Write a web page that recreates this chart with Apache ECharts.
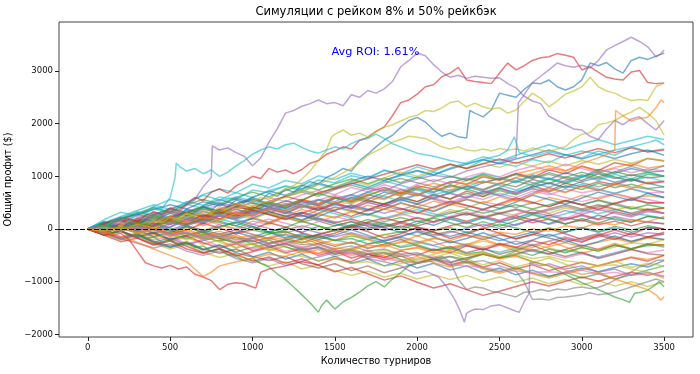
<!DOCTYPE html>
<html><head><meta charset="utf-8">
<script src="https://cdn.jsdelivr.net/npm/echarts@6/dist/echarts.min.js"></script>
<style>html,body{margin:0;padding:0;background:#fff}#c{width:700px;height:374px}</style>
</head><body><div id="c"></div>
<script>
// ---------- axes / ticks ----------
const TOURNAMENTS = [0,100,200,300,400,500,600,700,800,900,1000,1100,1200,1300,1400,1500,1600,1700,1800,1900,2000,2100,2200,2300,2400,2500,2600,2700,2800,2900,3000,3100,3200,3300,3400,3500];
const X_TICKS = [0,500,1000,1500,2000,2500,3000,3500];
const Y_TICKS = [-2000,-1000,0,1000,2000,3000];
const TITLE = 'Симуляции с рейком 8% и 50% рейкбэк';
const X_LABEL = 'Количество турниров';
const Y_LABEL = 'Общий профит ($)';
const ROI_TEXT = 'Avg ROI: 1.61%';
const ROI_POS = [1480, 3360];

// ---------- background simulations (profit every 100 tournaments) ----------
const bg01 = [0,150,90,260,380,310, 520,450,610,560,740,690, 820,760,930,880,1010,950, 1120,1040,1180,1090,1230,1150, 1310,1250,1190,1320,1260,1410, 1350,1480,1400,1560,1470,1520];
const bg02 = [0,-90,60,-40,130,250, 180,330,260,420,370,290, 450,560,480,610,540,700, 790,680,820,760,900,850, 990,930,1060,980,1120,1050, 1190,1110,1260,1200,1340,1290];
const bg03 = [0,110,-30,70,-80,40, 180,120,270,200,330,460, 390,520,440,580,650,560, 700,630,760,690,820,750, 880,960,880,1010,940,1070, 990,1130,1060,1150,1080,1100];
const bg04 = [0,-70,80,10,160,90, 240,170,310,420,350,480, 400,540,460,590,520,650, 580,700,630,770,690,820, 750,870,800,940,860,990, 920,1050,960,1030,970,1000];
const bg05 = [0,180,320,250,430,560, 480,650,760,690,850,780, 920,860,1010,940,1060,980, 1110,1030,970,1080,1000,940, 1050,980,910,1030,960,880, 990,1060,980,910,990,900];
const bg06 = [0,-60,90,30,170,100, 260,190,330,270,410,350, 480,400,550,470,610,530, 480,590,520,640,570,680, 610,730,650,770,700,820, 750,870,790,850,770,800];
const bg07 = [0,90,20,140,70,200, 130,260,190,310,240,370, 290,420,350,460,390,500, 430,550,470,590,510,630, 560,680,600,720,650,760, 690,740,670,770,690,700];
const bg08 = [0,-110,-40,-160,-90,-210, -120,-30,80,10,150,90, 220,150,280,210,320,260, 380,310,420,350,470,400, 520,450,560,490,600,530, 640,570,660,590,630,600];
const bg09 = [0,70,180,110,250,330, 260,380,300,420,490,410, 540,460,390,480,410,340, 430,360,470,400,510,440, 380,470,410,500,430,520, 460,550,480,560,490,500];
const bg10 = [0,-80,40,-50,60,160, 90,210,140,260,190,310, 230,170,290,220,340,270, 190,260,330,250,370,300, 230,320,260,370,300,400, 330,440,360,430,370,400];
const bg11 = [0,110,210,140,280,360, 290,420,500,430,560,480, 400,520,440,350,460,380, 300,390,310,240,330,260, 370,290,210,320,250,350, 280,370,300,230,330,300];
const bg12 = [0,-90,-180,-110,-250,-170, -300,-220,-140,-60,-150,-50, 30,-60,50,-20,80,10, 110,30,150,70,190,110, 220,140,70,180,100,220, 150,260,180,130,240,200];
const bg13 = [0,80,-30,140,60,210, 300,230,370,280,420,330, 240,310,200,120,190,100, 30,110,40,-30,60,130, 50,140,210,120,190,100, 170,80,150,60,140,100];
const bg14 = [0,-80,-190,-110,-250,-340, -260,-390,-300,-430,-350,-270, -190,-260,-150,-220,-130,-200, -110,-50,-130,-40,30,-60, 10,90,20,-60,20,-50, 30,-40,50,-20,60,0];
const bg15 = [0,100,190,280,200,330, 250,390,300,440,360,280, 190,260,150,60,140,50, -30,60,-20,-110,-40,-120, -200,-110,-180,-100,-170,-250, -170,-90,-160,-230,-150,-100];
const bg16 = [0,-110,-30,-160,-80,-230, -150,-290,-210,-360,-280,-410, -330,-460,-390,-520,-450,-560, -490,-410,-340,-420,-350,-280, -350,-270,-340,-410,-330,-260, -330,-250,-180,-260,-170,-200];
const bg17 = [0,140,70,210,300,220, 360,270,190,110,30,-50, -130,-200,-120,-210,-270,-190, -260,-330,-250,-320,-390,-310, -380,-440,-360,-420,-480,-400, -460,-530,-450,-370,-320,-300];
const bg18 = [0,-70,-150,-80,-210,-140, -280,-200,-330,-250,-380,-300, -420,-350,-470,-390,-510,-430, -550,-470,-590,-510,-630,-550, -480,-560,-490,-410,-480,-550, -470,-540,-460,-390,-450,-400];
const bg19 = [0,70,-40,-150,-70,-200, -130,-260,-360,-280,-410,-330, -450,-380,-500,-420,-550,-470, -590,-510,-640,-560,-680,-600, -720,-640,-760,-680,-790,-710, -630,-700,-620,-540,-610,-500];
const bg20 = [0,-90,-200,-120,-260,-350, -270,-400,-310,-450,-530,-440, -570,-480,-610,-520,-650,-570, -700,-610,-740,-650,-780,-700, -830,-740,-870,-780,-900,-820, -740,-810,-730,-660,-720,-600];
const bg21 = [0,100,40,170,90,20, -90,-160,-230,-150,-290,-210, -340,-420,-340,-480,-400,-530, -450,-580,-650,-570,-700,-620, -740,-810,-730,-840,-900,-820, -930,-850,-950,-870,-780,-700];
const bg22 = [0,90,170,100,240,160, 300,230,370,290,430,510, 430,560,480,610,530,660, 730,650,780,870,790,920, 1000,920,1050,1120,1200,1110, 1190,1080,1170,1240,1160,1200];
const bg23 = [0,-70,50,150,260,180, 310,420,340,480,570,490, 620,730,650,780,870,790, 920,1010,1100,1020,1160,1260, 1370,1290,1400,1500,1600,1510, 1620,1700,1600,1680,1760,1700];
const bg24 = [0,100,210,130,270,390, 310,440,560,470,600,720, 640,760,870,790,910,1000, 920,1030,1110,1030,1140,1230, 1320,1240,1330,1410,1500,1410, 1330,1420,1340,1430,1500,1400];
const bg25 = [0,-70,60,160,80,210, 130,270,190,330,250,390, 300,440,360,500,410,550, 460,610,520,660,570,720, 620,770,670,820,720,870, 800,900,840,940,860,900];
const bg26 = [0,120,240,350,460,370, 510,640,550,690,600,730, 810,720,850,760,880,790, 910,830,740,650,730,800, 710,630,720,790,870,780, 850,760,680,760,680,600];
const bg27 = [0,-60,80,20,160,90, 230,160,300,220,370,290, 210,130,210,140,50,130, 50,130,210,130,220,290, 210,290,360,280,350,430, 350,420,490,400,350,300];
const bg28 = [0,100,210,310,220,360, 280,420,330,480,390,300, 220,140,60,-20,-100,-180, -100,-180,-250,-170,-240,-310, -230,-300,-370,-290,-360,-430, -350,-420,-340,-260,-290,-200];
const bg29 = [0,-100,-210,-140,-280,-380, -300,-440,-540,-460,-600,-700, -620,-760,-680,-790,-880,-800, -910,-840,-950,-870,-960,-880, -990,-910,-1010,-930,-1040,-960, -1060,-980,-1080,-1000,-1090,-1000];
const bg30 = [0,-80,-180,-270,-360,-280, -420,-500,-420,-560,-640,-560, -690,-610,-530,-450,-370,-290, -210,-130,-60,-140,-60,10, 90,10,90,170,90,170, 250,170,240,170,130,100];
const bg31 = [0,70,-40,-140,-60,-200, -120,-40,50,120,200,120, 240,320,240,360,440,360, 480,560,480,600,680,590, 700,780,690,800,880,790, 900,980,890,950,870,800];
const bg32 = [0,90,200,300,410,320, 460,560,470,600,700,610, 730,830,740,860,950,860, 970,880,990,900,1000,920, 1030,940,1040,960,1070,980, 1080,990,1090,1010,1080,1000];
const bg33 = [0,-120,-240,-170,-310,-230, -380,-460,-380,-510,-430,-350, -270,-190,-110,-30,50,130, 210,130,220,140,230,150, 240,160,250,170,260,180, 270,190,330,260,360,400];
const bg34 = [0,-70,-160,-90,-230,-320, -240,-380,-460,-380,-520,-600, -520,-660,-740,-660,-790,-700, -830,-740,-650,-560,-640,-550, -470,-550,-470,-390,-470,-390, -310,-390,-310,-380,-300,-300];
const bg35 = [0,70,160,250,170,310, 230,370,460,380,520,600, 520,650,730,650,790,710, 840,760,680,600,680,600, 680,760,680,760,680,600, 520,600,680,600,560,500];
const bg36 = [0,80,-10,110,220,150, 290,400,320,460,570,490, 630,740,660,800,910,830, 970,1080,1000,1120,1230,1150, 1250,1170,1270,1190,1290,1200, 1300,1230,1320,1250,1340,1300];
const bg37 = [0,110,220,330,250,390, 470,390,530,610,530,450, 370,450,370,290,210,290, 210,290,370,290,210,130, 210,130,210,290,210,290, 370,290,370,290,260,200];
const bg38 = [0,80,180,110,30,-80, 0,-120,-40,-150,-240,-160, -280,-360,-280,-400,-480,-400, -520,-600,-520,-640,-720,-640, -760,-840,-760,-850,-930,-850, -770,-690,-610,-530,-580,-500];
const bg39 = [0,-80,-170,-100,-20,80, 170,90,240,330,250,400, 490,410,550,640,560,700, 790,710,850,940,860,990, 1070,990,1110,1190,1110,1230, 1150,1070,1150,1070,1140,1100];
const bg40 = [0,130,60,200,280,200, 340,420,340,480,560,480, 620,700,620,750,830,750, 880,960,880,800,880,960, 880,960,1040,960,1040,960, 880,800,880,800,760,700];
const bg41 = [0,-110,-50,-170,-290,-210, -330,-450,-370,-490,-610,-530, -650,-570,-690,-810,-730,-850, -970,-890,-1010,-1120,-1040,-1150, -1260,-1180,-1090,-1000,-1080,-990, -910,-990,-900,-820,-880,-800];
const bg42 = [0,100,190,280,370,460, 380,520,440,580,500,420, 340,260,180,100,20,100, 20,-60,20,-60,-140,-60, -140,-220,-140,-60,-140,-60, 20,-60,20,-60,20,0];
const bg43 = [0,-100,-20,70,-10,-100, -180,-100,-180,-260,-180,-100, -20,60,-20,60,140,60, 140,220,140,220,300,380, 300,380,460,380,460,540, 460,540,460,380,460,400];
const bg44 = [0,90,10,160,80,230, 320,240,380,470,390,530, 620,540,690,770,860,950, 1040,1130,1220,1140,1230,1150, 1240,1330,1250,1340,1430,1350, 1440,1530,1450,1540,1460,1500];
const bg45 = [0,-70,40,-30,110,30, 180,100,250,170,90,10, -70,10,-70,-150,-70,-150, -230,-150,-230,-310,-230,-310, -390,-310,-230,-310,-230,-150, -230,-150,-70,-150,-70,-100];
const bg46 = [0,80,160,80,220,140, 60,-20,-100,-20,-100,-180, -100,-180,-100,-20,60,-20, 60,140,60,140,220,300, 220,300,380,300,380,460, 380,460,380,300,380,300];
const bg47 = [0,130,40,190,110,-20, 90,230,150,60,210,330, 250,170,300,420,350,270, 380,500,410,330,460,560, 480,390,510,640,560,470, 590,700,620,540,680,600];
const bg48 = [0,-60,70,-20,-150,-90, 40,-70,-180,-110,-240,-160, -50,-170,-280,-210,-90,-200, -320,-250,-130,-240,-370,-300, -190,-300,-420,-350,-230,-340, -460,-380,-270,-380,-290,-300];
const bg49 = [0,70,200,120,250,170, 310,420,330,250,380,510, 430,550,680,590,500,630, 760,670,790,710,840,760, 660,790,910,830,950,860, 980,1090,990,910,1040,1000];
const bg50 = [0,-120,-30,90,10,-100, -20,110,20,-90,-10,120, 40,-70,-160,-80,40,-50, -170,-90,30,-60,-180,-100, 20,-80,-190,-110,10,-90, -200,-120,-20,-110,30,0];
const bg51 = [0,90,-20,60,170,90, 210,130,260,370,280,400, 320,230,360,470,390,510, 430,560,660,570,480,600, 720,640,550,680,790,700, 820,730,850,960,870,900];
const bg52 = [0,70,-40,30,-90,-20, -140,-60,-180,-260,-170,-290, -210,-120,-240,-330,-250,-370, -290,-200,-320,-410,-330,-450, -370,-480,-400,-310,-430,-520, -440,-560,-480,-390,-470,-500];
const bg53 = [0,-50,60,150,70,-30, 60,170,80,-20,90,190, 110,30,140,240,160,70, 180,290,210,120,240,330, 250,160,280,370,290,200, 320,410,330,240,350,300];
const bg54 = [0,80,170,90,-10,110, 220,140,270,380,300,420, 530,450,360,480,590,510, 640,750,660,570,700,810, 730,860,970,880,790,920, 1030,950,1080,1190,1100,1200];
const bg55 = [0,-90,20,-60,-170,-100, -210,-130,-250,-350,-270,-390, -310,-220,-340,-440,-360,-480, -400,-510,-620,-540,-450,-570, -680,-600,-720,-640,-550,-670, -780,-700,-610,-730,-650,-700];
const bg56 = [0,60,-40,80,190,110, 230,340,260,170,290,400, 320,440,550,470,590,700, 620,530,650,760,680,800, 910,830,740,860,970,890, 1010,920,1040,950,1070,1000];
const bg57 = [0,100,220,140,50,170, 90,210,320,240,350,270, 180,300,410,330,240,360, 470,390,300,420,530,450, 360,480,590,510,420,540, 460,370,490,580,500,500];
const bg58 = [0,-70,50,-30,-140,-60, 60,-40,-150,-70,50,-60, -170,-90,-200,-120,-10,-120, -230,-150,-40,-150,-260,-180, -70,-180,-290,-210,-100,-210, -320,-240,-130,-240,-150,-200];
const bg59 = [0,110,30,150,60,-50, 40,-70,30,140,50,-60, 30,150,60,-40,70,180, 90,-10,100,210,120,30, 140,50,160,270,180,90, 200,110,220,130,240,200];
const bg60 = [0,-40,80,200,120,240, 150,60,180,300,220,130, 250,370,290,410,330,450, 370,490,410,530,450,570, 490,610,530,650,770,690, 810,730,850,770,890,900];

// ---------- outlier simulations ([tournaments, profit]) ----------
const simPurpleTop = [[0,0],[50,60],[100,-20],[150,80],[200,150],[250,90],[300,200],[350,170],[400,320],[450,260],[500,380],[550,300],[600,450],[650,560],[700,800],[750,980],[756,1580],[800,1500],[850,1540],[900,1450],[950,1380],[1000,1200],[1050,1350],[1100,1650],[1150,1900],[1200,2200],[1250,2250],[1300,2330],[1350,2380],[1400,2450],[1450,2380],[1500,2400],[1550,2340],[1600,2550],[1650,2500],[1700,2630],[1750,2580],[1800,2660],[1850,2800],[1900,3080],[1950,3200],[2000,3340],[2050,3290],[2100,3120],[2150,2980],[2200,2880],[2250,2920],[2300,2860],[2350,2900],[2400,2880],[2450,2860],[2500,2870],[2550,2760],[2600,2680],[2650,2520],[2700,2430],[2750,2380],[2800,2140],[2850,2060],[2900,1980],[2950,1900],[3000,1880],[3050,1760],[3100,1700],[3150,1900],[3200,2060],[3250,1980],[3300,2090],[3350,2130],[3400,2000],[3450,1880],[3500,2060]];
const simRedTop = [[0,0],[50,-40],[100,50],[150,20],[200,120],[250,200],[300,140],[350,260],[400,330],[450,280],[500,400],[550,350],[600,480],[650,600],[700,540],[750,700],[800,760],[850,680],[900,820],[950,900],[1000,1000],[1050,960],[1100,1150],[1150,1080],[1200,1120],[1250,1050],[1300,1130],[1350,1250],[1400,1300],[1450,1420],[1500,1480],[1550,1560],[1600,1520],[1650,1680],[1700,1740],[1750,1850],[1800,1940],[1850,2150],[1900,2400],[1950,2450],[2000,2560],[2050,2700],[2100,2740],[2150,2890],[2200,2960],[2250,3070],[2300,2830],[2350,2800],[2400,2780],[2450,2760],[2500,2960],[2550,3150],[2600,3020],[2650,3100],[2700,3200],[2750,3250],[2800,3270],[2850,3330],[2900,3300],[2950,3260],[3000,3020],[3050,3080],[3100,2980],[3150,2880],[3200,2850],[3250,2830],[3300,2980],[3350,3010],[3400,2780],[3450,2760],[3500,2770]];
const simBlueTop = [[0,0],[50,40],[100,-30],[150,60],[200,20],[250,110],[300,60],[350,180],[400,140],[450,230],[500,300],[550,250],[600,380],[650,330],[700,420],[750,360],[800,480],[850,430],[900,550],[950,500],[1000,600],[1050,540],[1100,680],[1150,620],[1200,760],[1250,700],[1300,820],[1350,900],[1400,850],[1450,980],[1500,1050],[1550,1150],[1600,1100],[1650,1300],[1700,1420],[1750,1560],[1800,1690],[1850,1780],[1900,1930],[1950,2060],[2000,2120],[2050,2030],[2100,1880],[2150,1760],[2200,1820],[2250,1750],[2300,1730],[2320,2250],[2350,2200],[2400,2130],[2450,2260],[2500,2580],[2550,2540],[2600,2500],[2650,2650],[2700,2770],[2750,2760],[2800,2830],[2850,2700],[2900,2640],[2950,2700],[3000,2830],[3050,3150],[3100,3100],[3150,3160],[3200,3040],[3250,2960],[3300,3200],[3350,3260],[3400,3220],[3450,3280],[3500,3340]];
const simOliveTop = [[0,0],[50,-50],[100,20],[150,-30],[200,60],[250,0],[300,100],[350,50],[400,160],[450,120],[500,220],[550,180],[600,300],[650,250],[700,350],[750,300],[800,420],[850,380],[900,480],[950,440],[1000,520],[1050,600],[1100,560],[1150,680],[1200,760],[1250,820],[1300,950],[1350,1100],[1400,1300],[1450,1500],[1480,1750],[1500,1800],[1550,1880],[1600,1780],[1650,1820],[1700,1750],[1750,1860],[1800,1930],[1850,1980],[1900,2050],[1950,2120],[2000,2160],[2050,2250],[2100,2230],[2150,2300],[2200,2400],[2250,2430],[2300,2320],[2350,2390],[2400,2320],[2450,2280],[2500,2300],[2550,2200],[2600,2260],[2650,2420],[2700,2580],[2750,2480],[2800,2320],[2850,2430],[2900,2560],[2950,2620],[3000,2700],[3050,2880],[3100,2700],[3150,2620],[3200,2580],[3250,2500],[3300,2440],[3350,2460],[3400,2440],[3450,2700],[3500,2770]];
const simOliveMid = [[0,0],[100,60],[200,-20],[300,80],[400,150],[500,100],[600,220],[700,300],[800,250],[900,380],[1000,450],[1100,520],[1200,600],[1300,700],[1400,850],[1500,980],[1600,1150],[1650,1250],[1700,1400],[1750,1480],[1800,1560],[1850,1650],[1900,1700],[1950,1760],[2000,1740],[2050,1720],[2100,1640],[2150,1560],[2200,1520],[2250,1560],[2300,1500],[2350,1480],[2400,1520],[2450,1480],[2500,1530],[2550,1500],[2600,1520],[2650,1480],[2700,1540],[2750,1500],[2800,1470],[2850,1520],[2900,1560],[2950,1700],[3000,1800],[3050,1830],[3100,1980],[3150,2010],[3200,2060],[3250,2150],[3300,2220],[3350,2310],[3400,2200],[3450,2060],[3500,1780]];
const simPurpleJump = [[0,0],[100,-60],[200,30],[300,-50],[400,60],[500,120],[600,60],[700,180],[800,250],[900,200],[1000,320],[1100,400],[1200,350],[1300,480],[1400,560],[1500,520],[1600,650],[1700,780],[1800,720],[1900,860],[2000,950],[2100,1020],[2200,980],[2300,1100],[2400,1180],[2500,1250],[2550,1320],[2600,1360],[2615,2400],[2650,2550],[2700,2780],[2750,2900],[2800,3020],[2850,3150],[2900,3100],[2950,3070],[3000,3110],[3050,3060],[3100,3200],[3150,3400],[3200,3480],[3250,3560],[3300,3640],[3350,3560],[3400,3460],[3450,3270],[3480,3330],[3500,3400]];
const simOrangeJump = [[0,0],[100,50],[200,-40],[300,80],[400,30],[500,150],[600,100],[700,220],[800,180],[900,300],[1000,260],[1100,380],[1200,340],[1300,450],[1400,420],[1500,520],[1600,480],[1700,600],[1800,560],[1900,700],[2000,650],[2100,780],[2200,740],[2300,850],[2400,900],[2500,860],[2600,980],[2700,1050],[2800,1150],[2900,1100],[3000,1250],[3100,1350],[3150,1420],[3200,1500],[3205,2250],[3250,2150],[3300,2050],[3350,2100],[3400,2120],[3450,2300],[3480,2450],[3500,2400]];
const simCyanTop = [[0,0],[50,80],[100,30],[150,150],[200,220],[250,160],[300,320],[350,280],[400,420],[450,380],[500,600],[530,980],[537,1250],[560,1180],[600,1100],[650,1150],[700,1050],[750,1120],[800,1000],[850,1080],[900,1200],[950,1300],[1000,1420],[1050,1500],[1100,1560],[1150,1520],[1200,1600],[1250,1630],[1300,1550],[1350,1480],[1400,1440],[1450,1500],[1500,1560],[1550,1520],[1600,1620],[1650,1690],[1700,1720],[1750,1800],[1800,1720],[1850,1620],[1900,1560],[1950,1500],[2000,1440],[2100,1380],[2200,1300],[2300,1240],[2400,1320],[2500,1400],[2550,1500],[2590,1750],[2620,1450],[2700,1380],[2800,1460],[2900,1400],[3000,1480],[3100,1420],[3200,1500],[3300,1560],[3400,1640],[3450,1690],[3500,1600]];
const simGreenLow = [[0,0],[50,-50],[100,20],[150,-80],[200,-40],[250,-130],[300,-90],[350,-180],[400,-150],[450,-250],[500,-200],[550,-300],[600,-260],[650,-350],[700,-320],[750,-420],[800,-380],[850,-480],[900,-520],[950,-600],[1000,-560],[1050,-650],[1100,-720],[1150,-850],[1200,-960],[1250,-1100],[1300,-1250],[1350,-1400],[1400,-1580],[1420,-1450],[1450,-1350],[1500,-1520],[1550,-1380],[1600,-1300],[1650,-1200],[1700,-1080],[1750,-1000],[1800,-1100],[1850,-950],[1900,-830],[1950,-700],[2000,-650],[2100,-600],[2200,-520],[2300,-580],[2400,-480],[2500,-550],[2600,-420],[2700,-500],[2800,-380],[2900,-450],[3000,-350],[3100,-420],[3200,-300],[3300,-380],[3400,-280],[3500,-340]];
const simRedLow = [[0,0],[50,-60],[100,-20],[150,-120],[200,-80],[250,-200],[300,-420],[350,-640],[400,-700],[450,-740],[500,-690],[550,-760],[600,-720],[650,-860],[700,-910],[750,-980],[800,-1150],[850,-1050],[900,-1020],[950,-1040],[1000,-1100],[1020,-1120],[1050,-820],[1100,-760],[1200,-700],[1300,-620],[1400,-680],[1500,-560],[1600,-620],[1700,-480],[1800,-540],[1900,-420],[2000,-500],[2100,-380],[2200,-450],[2300,-320],[2400,-400],[2500,-280],[2600,-350],[2700,-220],[2800,-300],[2900,-180],[3000,-250],[3100,-120],[3200,-200],[3300,-80],[3400,-150],[3500,-60]];
const simPurpleLow = [[0,0],[100,-50],[200,30],[300,-80],[400,-20],[500,-130],[600,-80],[700,-200],[800,-150],[900,-260],[1000,-220],[1100,-330],[1200,-280],[1300,-400],[1400,-360],[1500,-480],[1600,-430],[1700,-560],[1800,-620],[1900,-700],[1980,-840],[2050,-800],[2130,-910],[2180,-1100],[2230,-1350],[2260,-1550],[2287,-1770],[2300,-1600],[2320,-1560],[2350,-1520],[2400,-1530],[2450,-1460],[2500,-1440],[2550,-1500],[2600,-1560],[2620,-1580],[2650,-1380],[2680,-1220],[2684,-640],[2750,-700],[2800,-660],[2900,-760],[3000,-700],[3100,-820],[3200,-760],[3300,-880],[3400,-820],[3500,-900]];
const simGrayLow = [[0,0],[100,40],[200,-30],[300,60],[400,-20],[500,-100],[600,-60],[700,-180],[800,-140],[900,-260],[1000,-220],[1100,-330],[1200,-280],[1300,-380],[1400,-340],[1500,-430],[1600,-400],[1700,-480],[1800,-440],[1900,-520],[2000,-480],[2100,-560],[2150,-520],[2200,-620],[2250,-960],[2300,-1150],[2350,-1100],[2400,-1120],[2450,-1180],[2500,-1210],[2550,-1250],[2600,-1290],[2650,-1200],[2700,-1190],[2750,-1150],[2800,-1180],[2850,-1140],[2900,-1160],[2950,-1120],[3000,-1100],[3050,-1130],[3100,-1110],[3150,-1050],[3200,-970],[3250,-900],[3300,-820],[3350,-720],[3400,-680],[3450,-600],[3500,-590]];
const simGrayLow2 = [[0,0],[100,-40],[200,20],[300,-70],[400,-10],[500,-110],[600,-70],[700,-150],[800,-100],[900,-200],[1000,-160],[1100,-260],[1200,-220],[1300,-300],[1400,-280],[1500,-380],[1600,-320],[1700,-420],[1800,-380],[1900,-480],[2000,-450],[2100,-560],[2200,-520],[2300,-640],[2400,-600],[2500,-700],[2600,-800],[2650,-1000],[2700,-1340],[2750,-1330],[2800,-1350],[2850,-1300],[2900,-1290],[2950,-1270],[3000,-1250],[3050,-1210],[3100,-1250],[3150,-1230],[3200,-1200],[3250,-1150],[3300,-1100],[3350,-1050],[3400,-1000],[3450,-950],[3500,-1000]];
const simGreenLate = [[0,0],[100,60],[200,10],[300,110],[400,50],[500,150],[600,90],[700,180],[800,120],[900,60],[1000,-20],[1100,-80],[1200,-50],[1300,-150],[1400,-120],[1500,-220],[1600,-180],[1700,-280],[1800,-240],[1900,-350],[2000,-300],[2100,-400],[2200,-360],[2300,-470],[2400,-430],[2500,-540],[2600,-500],[2700,-620],[2800,-700],[2900,-860],[3000,-1020],[3050,-1080],[3100,-1150],[3150,-1220],[3200,-1290],[3250,-1340],[3290,-1390],[3320,-1220],[3360,-1200],[3400,-1160],[3450,-1050],[3470,-1000],[3500,-1100]];
const simOrangeLow = [[0,0],[100,-30],[200,40],[300,-60],[400,10],[500,-90],[600,-30],[700,-130],[800,-80],[900,-170],[1000,-120],[1100,-210],[1200,-160],[1300,-260],[1400,-210],[1500,-300],[1600,-250],[1700,-350],[1800,-300],[1900,-400],[2000,-360],[2100,-450],[2200,-410],[2300,-500],[2400,-470],[2500,-560],[2600,-520],[2700,-620],[2800,-700],[2900,-780],[3000,-860],[3100,-820],[3200,-950],[3300,-1050],[3400,-1150],[3450,-1250],[3480,-1350],[3500,-1280]];
const simPinkLow = [[0,0],[100,30],[200,-40],[300,40],[400,-30],[500,-110],[600,-60],[700,-160],[800,-120],[900,-220],[1000,-180],[1100,-280],[1200,-240],[1300,-340],[1400,-300],[1500,-400],[1600,-450],[1700,-520],[1800,-560],[1900,-620],[2000,-650],[2100,-600],[2200,-680],[2300,-700],[2400,-720],[2500,-780],[2600,-800],[2700,-820],[2800,-810],[2900,-830],[3000,-780],[3100,-860],[3200,-820],[3300,-880],[3400,-850],[3500,-900]];
const simOliveLow = [[0,0],[100,-40],[200,20],[300,-80],[400,-30],[500,-140],[600,-100],[700,-200],[800,-150],[900,-260],[1000,-300],[1100,-380],[1200,-460],[1300,-520],[1400,-600],[1500,-560],[1600,-650],[1700,-620],[1800,-700],[1900,-660],[2000,-560],[2100,-480],[2200,-420],[2300,-500],[2400,-450],[2500,-520],[2600,-480],[2700,-560],[2800,-520],[2900,-600],[3000,-640],[3100,-700],[3200,-680],[3300,-760],[3400,-820],[3500,-940]];
const simOrangeEarlyLow = [[0,0],[100,-60],[200,-140],[300,-250],[400,-380],[500,-500],[600,-620],[650,-760],[700,-900],[750,-820],[800,-700],[900,-620],[1000,-560],[1100,-480],[1200,-520],[1300,-420],[1400,-460],[1500,-360],[1600,-400],[1700,-300],[1800,-340],[1900,-240],[2000,-280],[2100,-180],[2200,-220],[2300,-120],[2400,-160],[2500,-60],[2600,-100],[2700,0],[2800,-40],[2900,60],[3000,20],[3100,120],[3200,80],[3300,180],[3400,140],[3500,240]];

// ---------- styling ----------
const TAB10 = ['#1f77b4','#ff7f0e','#2ca02c','#d62728','#9467bd','#8c564b','#e377c2','#7f7f7f','#bcbd22','#17becf'];
const FONT = 'DejaVu Sans';

function onGrid(values){ return values.map((v,i)=>[TOURNAMENTS[i], v]); }

const runs = [
  [onGrid(bg01),9],[onGrid(bg02),3],[onGrid(bg03),0],[onGrid(bg04),5],[onGrid(bg05),9],[onGrid(bg06),2],
  [onGrid(bg07),6],[onGrid(bg08),1],[onGrid(bg09),7],[onGrid(bg10),8],[onGrid(bg11),4],[onGrid(bg12),0],
  [onGrid(bg13),3],[onGrid(bg14),2],[onGrid(bg15),5],[onGrid(bg16),1],[onGrid(bg17),9],[onGrid(bg18),6],
  [onGrid(bg19),3],[onGrid(bg20),0],[onGrid(bg21),2],[onGrid(bg22),1],[onGrid(bg23),9],[onGrid(bg24),0],
  [onGrid(bg25),3],[onGrid(bg26),9],[onGrid(bg27),7],[onGrid(bg28),8],[onGrid(bg29),8],[onGrid(bg30),4],
  [onGrid(bg31),0],[onGrid(bg32),2],[onGrid(bg33),3],[onGrid(bg34),5],[onGrid(bg35),6],[onGrid(bg36),8],
  [onGrid(bg37),9],[onGrid(bg38),1],[onGrid(bg39),6],[onGrid(bg40),7],[onGrid(bg41),3],[onGrid(bg42),0],
  [onGrid(bg43),2],[onGrid(bg44),3],[onGrid(bg45),4],[onGrid(bg46),5],[onGrid(bg47),0],[onGrid(bg48),1],
  [onGrid(bg49),2],[onGrid(bg50),3],[onGrid(bg51),4],[onGrid(bg52),5],[onGrid(bg53),6],[onGrid(bg54),7],
  [onGrid(bg55),8],[onGrid(bg56),9],[onGrid(bg57),3],[onGrid(bg58),0],[onGrid(bg59),2],[onGrid(bg60),1],
  [simPurpleTop,4],[simRedTop,3],[simBlueTop,0],[simOliveTop,8],[simOliveMid,8],[simPurpleJump,4],
  [simOrangeJump,1],[simCyanTop,9],[simGreenLow,2],[simRedLow,3],[simPurpleLow,4],[simGrayLow,7],
  [simGrayLow2,7],[simGreenLate,2],[simOrangeLow,1],[simPinkLow,6],[simOliveLow,8],[simOrangeEarlyLow,1]
];

const series = runs.map(([data, ci]) => ({
  type: 'line', data, symbol: 'none', showSymbol: false, silent: true,
  lineStyle: { width: 1.5, color: TAB10[ci], opacity: 0.6 },
  emphasis: { disabled: true }, z: 2
}));
series.push({
  type: 'line', data: [], symbol: 'none', silent: true, z: 10,
  markLine: {
    silent: true, symbol: 'none', animation: false,
    label: { show: false },
    lineStyle: { color: '#000', type: [5, 2], width: 1.2, opacity: 1 },
    data: [{ yAxis: 0 }]
  }
});

const minus = v => String(v).replace('-', '\u2212');

const chart = echarts.init(document.getElementById('c'), null, { renderer: 'canvas' });
chart.setOption({
  animation: false,
  backgroundColor: '#fff',
  grid: { left: 59, right: 7, top: 22, bottom: 37, containLabel: false, outerBoundsMode: 'none',
          show: true, borderColor: '#444', borderWidth: 1, backgroundColor: 'transparent' },
  xAxis: {
    type: 'value', min: -175, max: 3675,
    name: X_LABEL, nameLocation: 'middle', nameGap: 19,
    nameTextStyle: { fontFamily: FONT, fontSize: 9.7, color: '#000', verticalAlign: 'top' },
    axisLine: { show: false, onZero: false },
    axisTick: { show: true, inside: false, length: 4, lineStyle: { color: '#222', width: 1 }, customValues: X_TICKS },
    axisLabel: { fontFamily: FONT, fontSize: 8.5, color: '#111', margin: 6, customValues: X_TICKS, formatter: minus },
    splitLine: { show: false }
  },
  yAxis: {
    type: 'value', min: -2050, max: 3930,
    name: Y_LABEL, nameLocation: 'middle', nameGap: 42, nameRotate: 90,
    nameTextStyle: { fontFamily: FONT, fontSize: 9.7, color: '#000' },
    axisLine: { show: false, onZero: false },
    axisTick: { show: true, inside: false, length: 4, lineStyle: { color: '#222', width: 1 }, customValues: Y_TICKS },
    axisLabel: { fontFamily: FONT, fontSize: 8.5, color: '#111', margin: 6, customValues: Y_TICKS, formatter: minus },
    splitLine: { show: false }
  },
  series
});

const roiPx = chart.convertToPixel({ gridIndex: 0 }, ROI_POS);
chart.setOption({
  graphic: [
    { type: 'text', x: 376, y: 12, z: 100,
      style: { text: TITLE, fontFamily: FONT, fontSize: 11.5, fill: '#000', align: 'center', verticalAlign: 'middle' } },
    { type: 'text', x: roiPx[0], y: roiPx[1], z: 100,
      style: { text: ROI_TEXT, fontFamily: FONT, fontSize: 11.3, fill: '#0000ff', align: 'left', verticalAlign: 'middle' } }
  ]
});
</script>
</body></html>
